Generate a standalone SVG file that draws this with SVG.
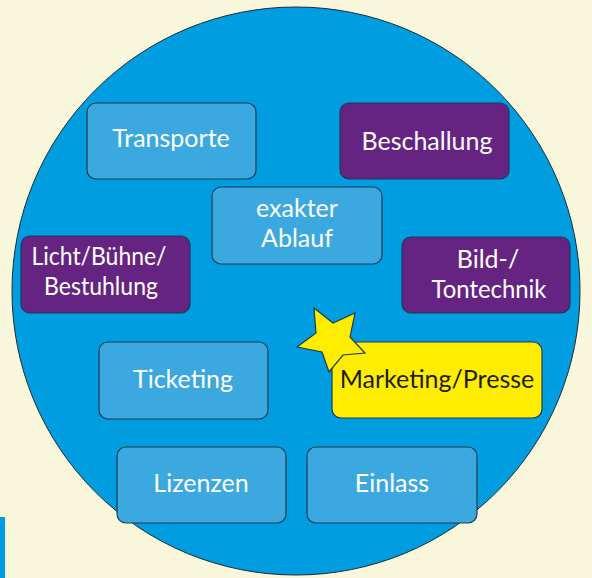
<svg xmlns="http://www.w3.org/2000/svg" width="592" height="578" viewBox="0 0 592 578">
  <style>
    .box { stroke: #1e3a52; stroke-width: 1.2; }
    .blue { fill: #3ca8e0; }
    .purple { fill: #662482; }
    .yellow { fill: #ffed00; }
    .lbl { font-family: Lato, "Liberation Sans", sans-serif; font-size: 25px; fill: #ffffff; text-anchor: middle; }
    .dark { fill: #1d1d1b; }
  </style>
  <rect x="0" y="0" width="592" height="578" fill="#f8f7dc"/>
  <rect x="0" y="517" width="5" height="61" fill="#009ee0"/>
  <circle cx="296" cy="291" r="284" fill="#009ee0" stroke="#1e2a33" stroke-width="1"/>

  <g id="transporte">
    <rect class="box blue" x="87" y="103" width="169" height="76" rx="9"/>
    <text class="lbl" x="171" y="147">Transporte</text>
  </g>
  <g id="beschallung">
    <rect class="box purple" x="340" y="103" width="169" height="76" rx="9"/>
    <text class="lbl" x="427" y="150">Beschallung</text>
  </g>
  <g id="ablauf">
    <rect class="box blue" x="212" y="187" width="170" height="77" rx="9"/>
    <text class="lbl" x="297" y="217">exakter</text>
    <text class="lbl" x="297" y="247">Ablauf</text>
  </g>
  <g id="licht">
    <rect class="box purple" x="21" y="236" width="169" height="77" rx="9"/>
    <text class="lbl" x="99" y="265" textLength="135" lengthAdjust="spacingAndGlyphs">Licht/Bühne/</text>
    <text class="lbl" x="101" y="295" textLength="114" lengthAdjust="spacingAndGlyphs">Bestuhlung</text>
  </g>
  <g id="bild">
    <rect class="box purple" x="402" y="237" width="168" height="76" rx="9"/>
    <text class="lbl" x="488" y="268">Bild-/</text>
    <text class="lbl" x="489" y="298" textLength="115" lengthAdjust="spacingAndGlyphs">Tontechnik</text>
  </g>
  <g id="ticketing">
    <rect class="box blue" x="99" y="342" width="169" height="77" rx="9"/>
    <text class="lbl" x="183" y="388">Ticketing</text>
  </g>
  <g id="marketing">
    <rect class="box yellow" x="332" y="342" width="210" height="76" rx="9"/>
    <polygon class="box yellow" points="314,308 333,323 355,313 350,337 365,353 343,355 329,372 322,352 297,347 316,333"/>
    <text class="lbl dark" x="437" y="388">Marketing/Presse</text>
  </g>
  <g id="lizenzen">
    <rect class="box blue" x="117" y="447" width="169" height="76" rx="9"/>
    <text class="lbl" x="201" y="492">Lizenzen</text>
  </g>
  <g id="einlass">
    <rect class="box blue" x="307" y="447" width="170" height="76" rx="9"/>
    <text class="lbl" x="392" y="492">Einlass</text>
  </g>
</svg>
